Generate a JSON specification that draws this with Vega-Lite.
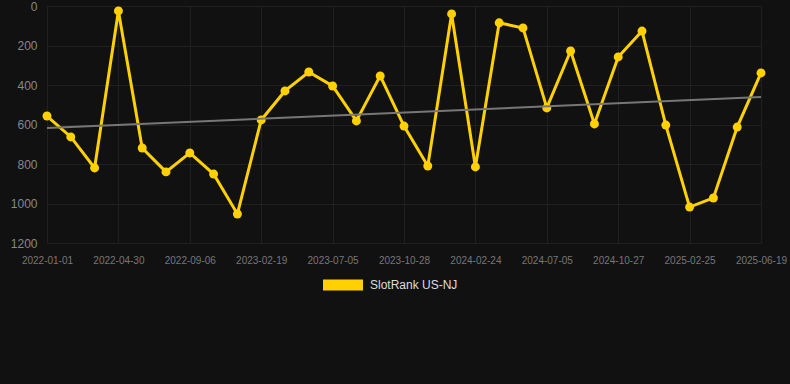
{
  "$schema": "https://vega.github.io/schema/vega-lite/v6.json",
  "autosize": {"type": "none"},
  "padding": {"left": 47, "top": 6, "right": 2, "bottom": 141},
  "width": 741,
  "height": 237,
  "background": "#111111",
  "config": {
    "view": {"stroke": null},
    "font": "Liberation Sans"
  },
  "data": {
    "values": [
      {"date": "2022-01-01", "rank": 557, "trend": 618},
      {"date": "2022-02-09", "rank": 663},
      {"date": "2022-03-21", "rank": 820},
      {"date": "2022-04-30", "rank": 25},
      {"date": "2022-06-12", "rank": 719},
      {"date": "2022-07-25", "rank": 840},
      {"date": "2022-09-06", "rank": 744},
      {"date": "2022-10-31", "rank": 851},
      {"date": "2022-12-25", "rank": 1053},
      {"date": "2023-02-19", "rank": 577},
      {"date": "2023-04-04", "rank": 430},
      {"date": "2023-05-19", "rank": 334},
      {"date": "2023-07-05", "rank": 405},
      {"date": "2023-08-12", "rank": 582},
      {"date": "2023-09-19", "rank": 354},
      {"date": "2023-10-28", "rank": 608},
      {"date": "2023-12-05", "rank": 810},
      {"date": "2024-01-15", "rank": 40},
      {"date": "2024-02-24", "rank": 815},
      {"date": "2024-04-08", "rank": 85},
      {"date": "2024-05-22", "rank": 111},
      {"date": "2024-07-05", "rank": 516},
      {"date": "2024-08-12", "rank": 228},
      {"date": "2024-09-19", "rank": 597},
      {"date": "2024-10-27", "rank": 258},
      {"date": "2024-12-05", "rank": 127},
      {"date": "2025-01-15", "rank": 603},
      {"date": "2025-02-25", "rank": 1018},
      {"date": "2025-04-04", "rank": 972},
      {"date": "2025-05-12", "rank": 613},
      {"date": "2025-06-19", "rank": 339, "trend": 461}
    ]
  },
  "encoding": {
    "x": {
      "field": "date",
      "type": "ordinal",
      "sort": "ascending",
      "scale": {"type": "point", "padding": 0, "range": [0, 714]},
      "axis": {
        "title": null,
        "values": ["2022-01-01", "2022-04-30", "2022-09-06", "2023-02-19", "2023-07-05", "2023-10-28", "2024-02-24", "2024-07-05", "2024-10-27", "2025-02-25", "2025-06-19"],
        "labelAngle": 0,
        "labelColor": "#777777",
        "labelFontSize": 10,
        "labelPadding": 12,
        "ticks": false,
        "domain": false,
        "grid": true,
        "gridColor": "#202020",
        "gridWidth": 1
      }
    },
    "y": {
      "field": "rank",
      "type": "quantitative",
      "scale": {"domain": [0, 1200], "reverse": true, "nice": false},
      "axis": {
        "title": null,
        "values": [0, 200, 400, 600, 800, 1000, 1200],
        "format": "d",
        "labelColor": "#888888",
        "labelFontSize": 12,
        "labelPadding": 10,
        "ticks": false,
        "domain": false,
        "grid": true,
        "gridColor": "#202020",
        "gridWidth": 1
      }
    }
  },
  "layer": [
    {
      "mark": {"type": "line", "strokeWidth": 3, "color": "#ffd100"},
      "encoding": {
        "color": {
          "datum": "SlotRank US-NJ",
          "type": "nominal",
          "scale": {"range": ["#ffd100"]},
          "legend": {
            "title": null,
            "orient": "none",
            "legendX": 276,
            "legendY": 259,
            "padding": 0,
            "symbolType": "M-1,-0.275L1,-0.275L1,0.275L-1,0.275Z",
            "symbolSize": 1600,
            "symbolFillColor": "#ffd100",
            "symbolStrokeColor": "#ffd100",
            "symbolStrokeWidth": 0,
            "labelColor": "#dddddd",
            "labelFontSize": 12,
            "labelOffset": 7
          }
        }
      }
    },
    {
      "mark": {"type": "point", "filled": true, "size": 80, "opacity": 1, "color": "#ffd100"}
    },
    {
      "transform": [{"filter": "isValid(datum.trend)"}],
      "mark": {"type": "line", "strokeWidth": 2, "color": "#777777"},
      "encoding": {
        "y": {"field": "trend", "type": "quantitative"}
      }
    }
  ]
}
